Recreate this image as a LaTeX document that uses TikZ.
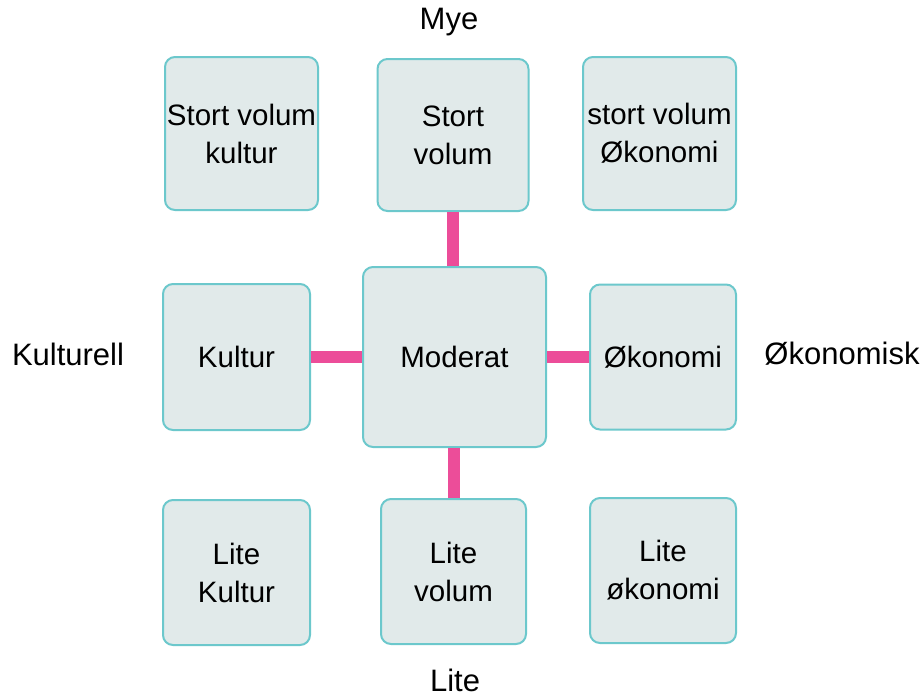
\documentclass[tikz,border=0pt]{standalone}
\usepackage{fontspec}
\setmainfont{Liberation Sans}
\usetikzlibrary{positioning}
\definecolor{boxfill}{RGB}{225, 234, 234}
\definecolor{boxline}{RGB}{108, 200, 204}
\definecolor{linkpink}{RGB}{236, 77, 153}

\begin{document}
\begin{tikzpicture}[x=1pt, y=-1pt,
    felt/.style={draw=boxline, fill=boxfill, line width=2pt, rounded corners=10pt,
      align=center, font=\fontsize{29.5}{38}\selectfont, inner sep=0pt},
    kobling/.style={draw=linkpink, line width=12pt},
    akse/.style={font=\fontsize{31}{36}\selectfont}]
    % Background
    \useasboundingbox[fill=white] (0,0) rectangle (923,697);

    % Boxes
    \node[felt, minimum width=153pt, minimum height=153pt] (tl) at (241.5, 133.5) {Stort volum\\kultur};
    \node[felt, minimum width=151pt, minimum height=152pt] (tc) at (453, 135) {Stort\\volum};
    \node[felt, minimum width=153pt, minimum height=153pt] (tr) at (659.5, 133.5) {stort volum\\Økonomi};

    \node[felt, minimum width=147pt, minimum height=146pt] (ml) at (236.5, 357) {Kultur};
    \node[felt, minimum width=183pt, minimum height=180pt] (c) at (454.5, 357) {Moderat};
    \node[felt, minimum width=146pt, minimum height=145pt] (mr) at (663, 357) {Økonomi};

    \node[felt, minimum width=147pt, minimum height=145pt] (bl) at (236.5, 572.5) {Lite\\Kultur};
    \node[felt, minimum width=145pt, minimum height=145pt] (bc) at (453.5, 571.5) {Lite\\volum};
    \node[felt, minimum width=146pt, minimum height=145pt] (br) at (663, 570.5) {Lite\\økonomi};

    % Links
    \draw[kobling] (tc.south) -- (tc.south |- c.north);
    \draw[kobling] (bc.north) -- (bc.north |- c.south);
    \draw[kobling] (ml.east) -- (c.west);
    \draw[kobling] (c.east) -- (mr.west);

    % Axis labels
    \node[akse] (mye) at (449, 22) {Mye};
    \node[akse] (lite) at (455, 680) {Lite};
    \node[akse] (kulturell) at (68, 354) {Kulturell};
    \node[akse] (okonomisk) at (842, 354) {Økonomisk};

  \end{tikzpicture}
\end{document}
